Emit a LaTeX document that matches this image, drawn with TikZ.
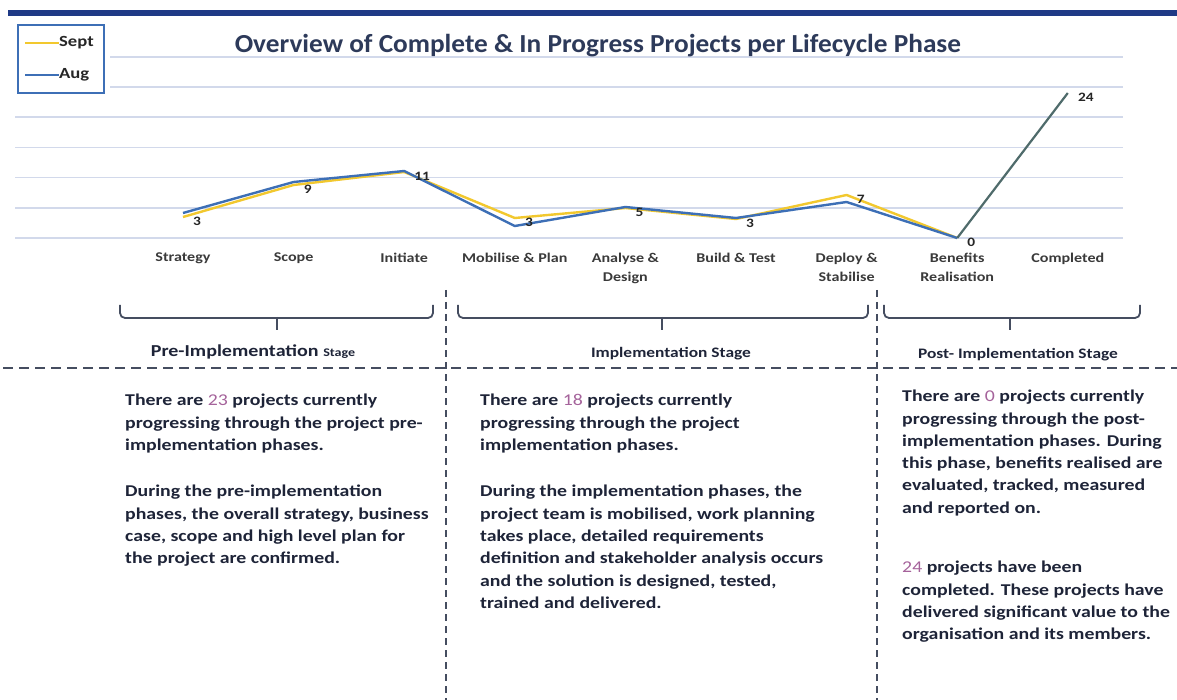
\documentclass[tikz,border=0pt]{standalone}
\usepackage{fontspec}
\setmainfont{Carlito}
\newfontfamily\widefont[FakeStretch=1.2]{Carlito}
\newfontfamily\titlefont[FakeStretch=1.05]{Carlito}
\definecolor{barc}{HTML}{1F3A86}
\definecolor{gridc}{HTML}{D2D9EB}
\definecolor{septc}{HTML}{F2C82E}
\definecolor{augc}{HTML}{3D6FB6}
\definecolor{compc}{HTML}{4F6B6B}
\definecolor{titlec}{HTML}{2D3A5A}
\definecolor{txtc}{HTML}{1E2438}
\definecolor{numc}{HTML}{A5639B}
\definecolor{dashc}{HTML}{454D60}
\definecolor{labc}{HTML}{262626}
\definecolor{axc}{HTML}{3A3A3A}
\newcommand\hl[1]{{\mdseries\color{numc}#1}}
\begin{document}
\begin{tikzpicture}[x=1pt,y=-1pt,
  gridline/.style={draw=gridc, line width=1.6pt},
  septline/.style={draw=septc, line width=2.4pt, line join=round},
  augline/.style={draw=augc, line width=2.4pt, line join=round},
  compline/.style={draw=compc, line width=2.2pt},
  vallab/.style={font=\widefont\fontsize{12.8}{14}\selectfont\bfseries, text=labc, anchor=west, inner sep=0},
  axlab/.style={font=\widefont\fontsize{13.4}{19}\selectfont\bfseries, text=axc, align=center, anchor=north, inner sep=0},
  legtext/.style={font=\widefont\fontsize{15.5}{17}\selectfont\bfseries, text=labc, anchor=west, inner sep=0},
  bracec/.style={draw=dashc, line width=1.8pt, rounded corners=5pt},
  hdash/.style={draw=dashc, line width=1.8pt, dash pattern=on 10pt off 6pt},
  vdash/.style={draw=dashc, line width=1.8pt, dash pattern=on 7pt off 5pt},
  body/.style={font=\widefont\fontsize{16.5}{22.3}\selectfont\bfseries, text=txtc, align=left, anchor=north west, inner sep=0},
  stagelab/.style={font=\widefont\fontsize{14.5}{16}\selectfont\bfseries, text=txtc, inner sep=0}]
\useasboundingbox (0,0) rectangle (1177,700);
\fill[white] (0,0) rectangle (1177,700);
% top bar
\fill[barc] (8,10) rectangle (1177,16);
% gridlines
\foreach \k in {0,...,4} { \draw[gridline] (15,{238-30.2*\k}) -- (1123,{238-30.2*\k}); }
\foreach \k in {5,6} { \draw[gridline] (110,{238-30.2*\k}) -- (1123,{238-30.2*\k}); }
% legend
\draw[draw=augc, line width=1.8pt] (18,25) rectangle (104,93);
\coordinate (ls1) at (25,43); \coordinate (ls2) at (59,43);
\coordinate (la1) at (25,75); \coordinate (la2) at (59,75);
\draw[septc, line width=2pt] (ls1) -- (ls2);
\draw[augc, line width=2pt] (la1) -- (la2);
\node[legtext] (lsept) at (59,43) {Sept};
\node[legtext] (laug) at (59,75) {Aug};
% title
\node[font=\titlefont\fontsize{26}{28}\selectfont\bfseries, text=titlec, inner sep=0] (title) at (598,46) {Overview of Complete \& In Progress Projects per Lifecycle Phase};
% data
\foreach \i/\s/\a in {1/217/213, 2/185/182, 3/172/171, 4/218/226, 5/208/207, 6/219/218, 7/195/202, 8/238/238, 9/93/93} {
  \coordinate (S\i) at ({183+110.6*(\i-1)},\s);
  \coordinate (A\i) at ({183+110.6*(\i-1)},\a);
}
\draw[septline] (S1) -- (S2) -- (S3) -- (S4) -- (S5) -- (S6) -- (S7) -- (S8);
\draw[augline] (A1) -- (A2) -- (A3) -- (A4) -- (A5) -- (A6) -- (A7) -- (A8);
\draw[compline] (A8) -- (A9);
\foreach \i/\v in {1/3, 2/9, 3/11, 4/3, 5/5, 6/3, 7/7, 8/0, 9/24} {
  \node[vallab] (v\i) at ([shift={(10,4)}]S\i) {\v};
}
% axis labels
\foreach \i/\t in {1/Strategy, 2/Scope, 3/Initiate, 4/Mobilise \& Plan, 5/Analyse \&\\Design, 6/Build \& Test, 7/Deploy \&\\Stabilise, 8/Benefits\\Realisation, 9/Completed} {
  \node[axlab] (ax\i) at ({183+110.6*(\i-1)},253) {\t};
}
% braces
\draw[bracec] (120,305) |- (277,318) -| (433,305);
\draw[dashc, line width=1.8pt] (277,317) -- (277,330);
\draw[bracec] (458,305) |- (662,318) -| (868,305);
\draw[dashc, line width=1.8pt] (662,317) -- (662,330);
\draw[bracec] (884,305) |- (1010,318) -| (1140,305);
\draw[dashc, line width=1.8pt] (1010,317) -- (1010,330);
% stage labels
\node[stagelab] (st1) at (253,352) {\fontsize{16.7}{18}\selectfont Pre-Implementation {\fontsize{11.7}{13}\selectfont Stage}};
\node[stagelab] (st2) at (671,354) {Implementation Stage};
\node[stagelab] (st3) at (1018,355) {Post- Implementation Stage};
% dashed separators
\draw[hdash] (3,368) -- (1177,368);
\draw[vdash] (446,290) -- (446,700);
\draw[vdash] (877,290) -- (877,700);
% body text
\node[body] (c1a) at (125,394) {There are \hl{23} projects currently\\progressing through the project pre-\\implementation phases.};
\node[body] (c1b) at (125,485) {During the pre-implementation\\phases, the overall strategy, business\\case, scope and high level plan for\\the project are confirmed.};
\node[body] (c2a) at (480,394) {There are \hl{18} projects currently\\progressing through the project\\implementation phases.};
\node[body] (c2b) at (480,485) {During the implementation phases, the\\project team is mobilised, work planning\\takes place, detailed requirements\\definition and stakeholder analysis occurs\\and the solution is designed, tested,\\trained and delivered.};
\node[body] (c3a) at (902,390) {There are \hl{0} projects currently\\progressing through the post-\\implementation phases. During\\this phase, benefits realised are\\evaluated, tracked, measured\\and reported on.};
\node[body] (c3b) at (902,561) {\hl{24} projects have been\\completed. These projects have\\delivered significant value to the\\organisation and its members.};
\end{tikzpicture}
\end{document}
